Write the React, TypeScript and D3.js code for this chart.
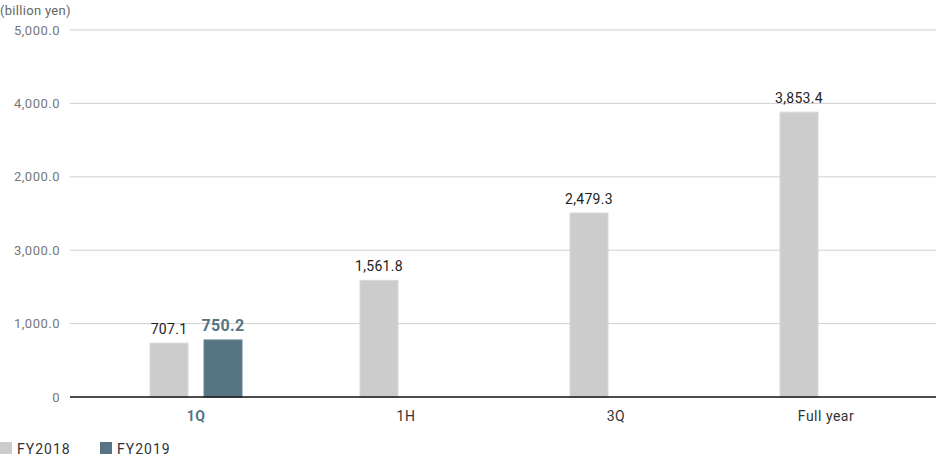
import React from "react";
import * as d3 from "d3";

const categories = ["1Q", "1H", "3Q", "Full year"];
const seriesNames = ["FY2018", "FY2019"];
const fy2018 = [707.1, 1561.8, 2479.3, 3853.4];
const fy2019: (number | null)[] = [750.2, null, null, null];
const valueLabels2018 = ["707.1", "1,561.8", "2,479.3", "3,853.4"];
const valueLabels2019 = ["750.2", "", "", ""];
const tickValues = [0, 1000, 2000, 3000, 4000, 5000];
const tickLabels = ["0", "1,000.0", "3,000.0", "2,000.0", "4,000.0", "5,000.0"];
const unitLabel = "(billion yen)";

const W = 936;
const H = 456;
const FONT = "Roboto, 'DejaVu Sans', sans-serif";
const C18 = "#cccccc";
const C19 = "#557582";

export default function App() {
  const y = d3.scaleLinear().domain([0, 5000]).range([397, 30]);
  const x = d3.scaleBand<string>().domain(categories).range([91, 931]).padding(0);
  const inner = d3
    .scaleBand<string>()
    .domain(seriesNames)
    .range([-46, 46])
    .paddingInner(16 / 54)
    .paddingOuter(0);
  const bw = inner.bandwidth();
  const series = [
    { name: "FY2018", values: fy2018 as (number | null)[], labels: valueLabels2018, color: C18 },
    { name: "FY2019", values: fy2019, labels: valueLabels2019, color: C19 },
  ];
  return (
    <svg
      width={W}
      height={H}
      style={{ position: "absolute", left: 0, top: 0, fontFamily: FONT }}
    >
      <text x={0} y={15} fontSize={13} fill="#666" letterSpacing={0.3}>
        {unitLabel}
      </text>
      {tickValues.map((v, i) => (
        <g key={v}>
          {v !== 0 && (
            <line x1={70} x2={936} y1={y(v)} y2={y(v)} stroke="#cfcfcf" strokeWidth={1} />
          )}
          <text
            x={60}
            y={y(v)}
            dy="0.35em"
            textAnchor="end"
            fontSize={13}
            fill="#777"
            letterSpacing={0.5}
          >
            {tickLabels[i]}
          </text>
        </g>
      ))}
      {categories.map((c, ci) => {
        const cx = (x(c) as number) + x.bandwidth() / 2;
        return (
          <g key={c}>
            {series.map((s) => {
              const v = s.values[ci];
              if (v == null) return null;
              const bx = cx + (inner(s.name) as number);
              const isNew = s.name === "FY2019";
              return (
                <g key={s.name}>
                  <rect
                    x={bx}
                    y={y(v) - 2}
                    width={bw}
                    height={y(0) - y(v) + 2}
                    fill={s.color}
                    stroke={isNew ? "#6d8893" : "#d8d8d8"}
                    strokeWidth={1}
                  />
                  <text
                    x={bx + bw / 2}
                    y={y(v) - 11}
                    textAnchor="middle"
                    fontSize={isNew ? 16 : 14}
                    fontWeight={isNew ? 700 : 400}
                    fill={isNew ? C19 : "#222"}
                    letterSpacing={0.3}
                  >
                    {s.labels[ci]}
                  </text>
                </g>
              );
            })}
            <text
              x={cx}
              y={421}
              textAnchor="middle"
              fontSize={14}
              fontWeight={ci === 0 ? 700 : 400}
              fill={ci === 0 ? C19 : "#333"}
              letterSpacing={0.5}
            >
              {c}
            </text>
          </g>
        );
      })}
      <line x1={70} x2={936} y1={y(0)} y2={y(0)} stroke="#111" strokeWidth={1.5} />
      {series.map((s, i) => (
        <g key={s.name} transform={`translate(${i * 100},0)`}>
          <rect x={0} y={442} width={12} height={12} fill={s.color} />
          <text x={17} y={454} fontSize={14} fill="#333" letterSpacing={1}>
            {s.name}
          </text>
        </g>
      ))}
    </svg>
  );
}
